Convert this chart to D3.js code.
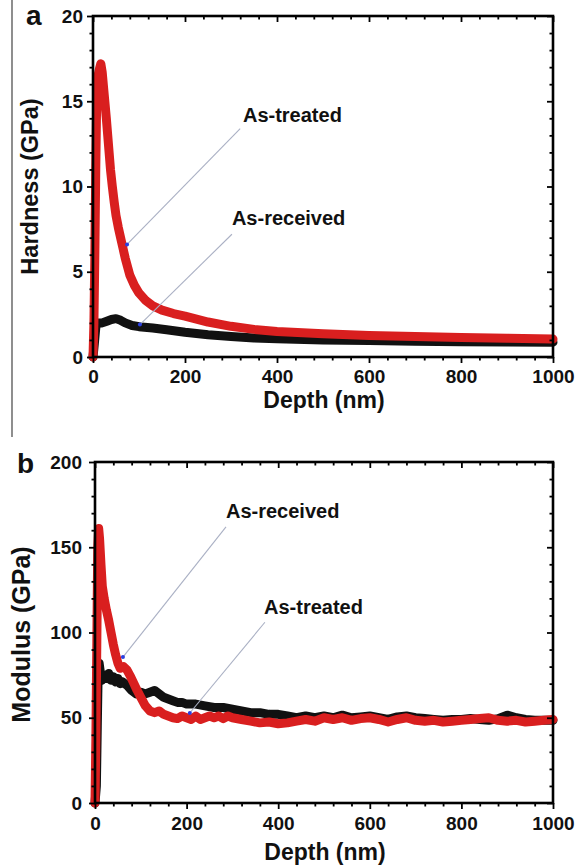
<!DOCTYPE html>
<html><head><meta charset="utf-8">
<script src="https://cdn.jsdelivr.net/npm/d3@7"></script>
<style>
body{margin:0;background:#fff;}
svg{display:block;font-family:"Liberation Sans",Arial,sans-serif;font-weight:bold;}
</style></head>
<body>
<svg id="c" width="585" height="868"></svg>
<script>
// ---------------- DATA ----------------
const hardDepthTreated = [0,2,4,6,8,11,14,17,20,23,26,29,32,35,38,42,46,50,55,60,65,70,75,80,90,100,115,130,150,175,200,250,300,350,400,500,600,700,800,900,1000];
const hardTreated      = [0,2,6,11,15,16.5,16.9,17.2,16.7,15.8,14.9,14.0,13.0,12.0,11.0,10.0,9.1,8.3,7.6,7.0,6.4,5.8,5.3,4.8,4.2,3.75,3.3,3.0,2.75,2.55,2.4,2.05,1.8,1.62,1.5,1.36,1.26,1.2,1.15,1.1,1.05];
const hardDepthReceived = [0,3,6,8,12,20,30,40,50,60,70,85,100,130,160,200,250,300,350,400,500,600,700,800,900,1000];
const hardReceived      = [0,0.8,1.7,1.95,2.0,2.0,2.1,2.2,2.25,2.15,2.0,1.85,1.78,1.7,1.6,1.45,1.3,1.2,1.12,1.07,1.0,0.97,0.93,0.9,0.88,0.87];

const modDepthTreated = [0,2,4,6,8,10,13,16,20,25,30,35,40,45,50,55,62,70,78,85,92,100,110,120,130,140,150,160,170,180,190,200,210,220,230,240,250,260,270,280,290,300,320,340,360,380,400,420,440,460,480,500,520,540,560,580,600,620,640,660,680,700,720,740,760,780,800,820,840,860,880,900,920,940,960,980,1000];
const modTreated      = [0,40,95,150,161,155,140,127,120,113,107,100,93,87,82,79,80,78,74,70,66,62,57,54,53,54,52,51,50,49.5,51,50,49,51,49,50,51,50,51,49.5,51,50,49,48,47,47.5,46.5,47,48,49,48,50,49,50,48.5,49.5,50,49,47.5,49,50,48.5,48,48.5,47.5,48,48.5,49,49.5,50,48.5,48,48.5,47.5,48,48.5,49];
const modDepthReceived = [0,3,5,7,9,12,15,20,25,30,35,40,45,50,55,60,70,80,90,100,110,120,130,140,150,160,170,180,190,200,220,240,260,280,300,320,340,360,380,400,420,440,460,480,500,520,540,560,580,600,620,640,660,680,700,720,740,760,780,800,820,840,860,880,900,920,940,960,980,1000];
const modReceived      = [0,10,45,78,82,76,72,75,73,76,72,74,71,73,70,71,69,66,64,65,64,65,66,64,62,61,60,59,59,58,58,57,56,56,55,54,53,53,52,52,51,50,51,50,51,50,51.5,50,50.5,51,50,49,50.5,51,50,49.5,49,48.5,49,49,49.5,49,48.5,49.5,51.5,50,49,48.5,48.5,48.5];

const xTicks = [0,200,400,600,800,1000];
const hardTicks = [0,5,10,15,20];
const modTicks = [0,50,100,150,200];

// annotations in data units: [x1,y1,x2,y2,textX,textY,label]
const annotA = [[74,6.6,320,13.4,326,13.8,"As-treated"],[102,1.9,302,7.2,302,7.75,"As-received"]];
const annotB = [[61,85.6,286,162,286,167,"As-received"],[207,52.8,371,106,369,110.8,"As-treated"]];

// ---------------- DRAW ----------------
const svg = d3.select("#c");
const RED = "#d91f1f", BLACK = "#111";

// scanning artifact line at far left
svg.append("line").attr("x1",12).attr("x2",12).attr("y1",0).attr("y2",437)
  .attr("stroke","#444").attr("stroke-width",1.2);

function panel(cfg){
  const g = svg.append("g");
  const x = d3.scaleLinear().domain([0,1000]).range([cfg.left,553]);
  const y = d3.scaleLinear().domain([0,cfg.ymax]).range([cfg.bottom,cfg.top]);
  const W = 553-cfg.left, H = cfg.bottom-cfg.top;
  const xMinor = d3.range(0,1001,40).filter(v=>v%200!==0);
  const yMinor = d3.range(0,cfg.ymax+0.001,cfg.yminor).filter(v=>Math.abs(v/cfg.ystep-Math.round(v/cfg.ystep))>1e-6);

  // series
  const line = (xs,ys)=>d3.line().x((d,i)=>x(xs[i])).y((d,i)=>y(ys[i]))(xs);
  cfg.series.forEach(s=>{
    g.append("path").attr("d",line(s.x,s.y)).attr("fill","none")
      .attr("stroke",s.color).attr("stroke-width",9)
      .attr("stroke-linejoin","round").attr("stroke-linecap","round");
  });

  // annotations
  cfg.annot.forEach(a=>{
    g.append("line").attr("x1",x(a[0])).attr("y1",y(a[1])).attr("x2",x(a[2])).attr("y2",y(a[3]))
      .attr("stroke","#aab0c4").attr("stroke-width",1.1);
    g.append("circle").attr("cx",x(a[0])).attr("cy",y(a[1])).attr("r",2).attr("fill","#2a3fe0");
    g.append("text").attr("x",x(a[4])).attr("y",y(a[5])).text(a[6])
      .attr("font-size",20).attr("fill","#111");
  });

  const style = sel=>{ sel.select(".domain").remove();
    sel.selectAll("line").attr("stroke","#000").attr("stroke-width",1.8);
    sel.selectAll("text").attr("font-size",19).attr("font-weight","bold").attr("fill","#111")
      .attr("font-family","Liberation Sans, Arial, sans-serif"); };
  const fmt = d3.format("d");

  // bottom
  g.append("g").attr("transform",`translate(0,${cfg.bottom})`)
    .call(d3.axisBottom(x).tickValues(xTicks).tickSize(6).tickPadding(cfg.xpad).tickFormat(fmt)).call(style);
  g.append("g").attr("transform",`translate(0,${cfg.bottom})`)
    .call(d3.axisBottom(x).tickValues(xMinor).tickSize(3.5).tickFormat("")).call(style);
  // top (inward)
  g.append("g").attr("transform",`translate(0,${cfg.top})`)
    .call(d3.axisBottom(x).tickValues(xTicks).tickSize(6).tickFormat("")).call(style);
  g.append("g").attr("transform",`translate(0,${cfg.top})`)
    .call(d3.axisBottom(x).tickValues(xMinor).tickSize(3.5).tickFormat("")).call(style);
  // left
  g.append("g").attr("transform",`translate(${cfg.left},0)`)
    .call(d3.axisLeft(y).tickValues(cfg.yticks).tickSize(6).tickPadding(cfg.ypad).tickFormat(fmt)).call(style);
  g.append("g").attr("transform",`translate(${cfg.left},0)`)
    .call(d3.axisLeft(y).tickValues(yMinor).tickSize(3.5).tickFormat("")).call(style);
  // right (inward)
  g.append("g").attr("transform",`translate(553,0)`)
    .call(d3.axisLeft(y).tickValues(cfg.yticks).tickSize(6).tickFormat("")).call(style);
  g.append("g").attr("transform",`translate(553,0)`)
    .call(d3.axisLeft(y).tickValues(yMinor).tickSize(3.5).tickFormat("")).call(style);

  // frame
  g.append("rect").attr("x",cfg.left).attr("y",cfg.top).attr("width",W).attr("height",H)
    .attr("fill","none").attr("stroke","#000").attr("stroke-width",2.6);

  // titles
  g.append("text").attr("x",(cfg.left+553)/2+1).attr("y",cfg.xtitleY).attr("text-anchor","middle")
    .attr("font-size",23).attr("fill","#111").text("Depth (nm)");
  g.append("text").attr("transform",`translate(${cfg.ytitleX},${(cfg.top+cfg.bottom)/2+cfg.ytitleDy}) rotate(-90)`)
    .attr("text-anchor","middle").attr("font-size",cfg.ytitleSize).attr("fill","#111").text(cfg.ytitle);
  g.append("text").attr("x",cfg.labelX).attr("y",cfg.labelY).attr("font-size",28).attr("fill","#111").text(cfg.label);
}

panel({left:93, top:16, bottom:357, ymax:20, ystep:5, yminor:1, yticks:hardTicks,
  xpad:7, ypad:4, xtitleY:408, ytitleX:38, ytitleDy:0, ytitleSize:23.5, ytitle:"Hardness (GPa)",
  label:"a", labelX:26, labelY:25,
  series:[{x:hardDepthReceived,y:hardReceived,color:BLACK},{x:hardDepthTreated,y:hardTreated,color:RED}],
  annot:annotA});

panel({left:95, top:462, bottom:803, ymax:200, ystep:50, yminor:10, yticks:modTicks,
  xpad:8, ypad:7, xtitleY:860, ytitleX:30, ytitleDy:2, ytitleSize:25, ytitle:"Modulus (GPa)",
  label:"b", labelX:17, labelY:473,
  series:[{x:modDepthReceived,y:modReceived,color:BLACK},{x:modDepthTreated,y:modTreated,color:RED}],
  annot:annotB});
</script>
</body></html>
